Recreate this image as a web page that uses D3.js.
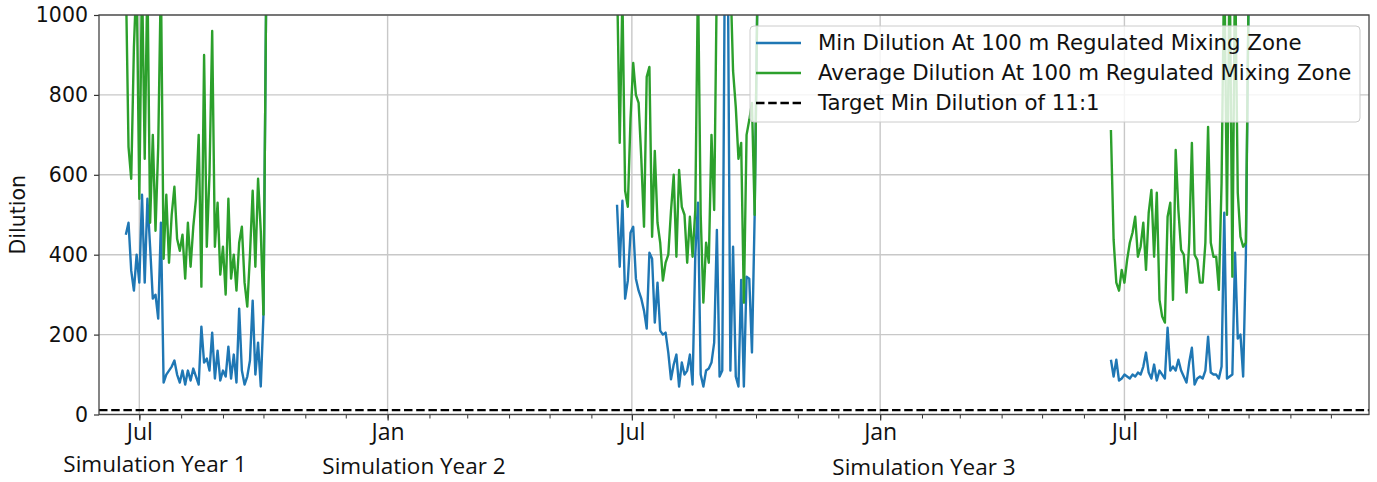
<!DOCTYPE html>
<html><head><meta charset="utf-8">
<script src="https://cdn.jsdelivr.net/npm/d3@7"></script>
<style>body{margin:0;background:#fff;} svg{display:block;}</style>
</head><body><svg id="chart" width="1377" height="482"></svg>
<script>
// ---------- data ----------
const seasonStarts = ["2017-06-21", "2018-06-20", "2019-06-21"];
const stepDays = 2;

const minYear1 = [450,480,360,310,400,330,550,330,540,420,290,300,240,480,80,100,110,120,135,100,80,110,75,110,85,115,95,75,220,130,140,110,205,90,160,85,110,95,170,90,150,80,265,110,75,95,135,285,100,180,70,250,1050];
const avgYear1 = [1100,670,590,920,1100,540,1100,640,1100,480,700,460,670,1100,390,550,380,500,570,440,410,450,340,480,370,470,540,700,320,900,420,600,960,420,530,350,420,300,540,340,400,310,430,470,330,270,400,560,370,590,460,250,1050];

const minYear2 = [525,370,535,290,335,455,470,340,310,290,260,215,405,390,230,330,210,200,205,155,88,125,150,70,130,100,110,150,75,400,530,100,70,110,115,130,180,462,95,110,1200,1200,110,420,95,70,337,70,345,340,155,500,1050];
const avgYear2 = [1100,680,1050,560,520,740,880,800,780,640,470,845,870,445,660,480,430,335,380,400,510,600,395,612,520,500,380,495,395,512,1100,500,280,430,380,700,512,1100,1100,1100,1200,1200,1100,860,770,640,680,280,700,737,780,500,1050];

const minYear3 = [137,95,137,85,90,100,95,90,100,95,105,100,120,155,105,90,125,85,110,100,90,217,110,120,110,137,110,95,80,130,167,75,90,95,90,110,195,105,100,100,90,120,505,90,95,100,405,190,200,95,395,1050];
const avgYear3 = [712,437,330,310,362,330,387,430,455,495,395,420,480,362,505,562,395,555,287,245,230,495,530,287,662,512,412,400,305,430,680,400,387,330,330,430,720,430,395,395,312,580,1150,500,1150,345,1150,555,445,420,430,1050];

const targetDilution = 11;
const yTicks = [0, 200, 400, 600, 800, 1000];
const xDomain = ["2017-06-01T03:00:00Z", "2019-12-29T06:00:00Z"];
const legendLabels = [
  "Min Dilution At 100 m Regulated Mixing Zone",
  "Average Dilution At 100 m Regulated Mixing Zone",
  "Target Min Dilution of 11:1"
];
const yearLabels = ["Simulation Year 1", "Simulation Year 2", "Simulation Year 3"];
const yAxisLabel = "Dilution";

// ---------- layout ----------
const colors = { min: "#1f77b4", avg: "#2ca02c", target: "#000" };
const M = { left: 99, right: 1369, top: 15, bottom: 414.5 };
const LW = 2.4;
const svg = d3.select("#chart");

const x = d3.scaleUtc().domain(xDomain.map(d => new Date(d))).range([M.left, M.right]);
const y = d3.scaleLinear().domain([0, 1000]).range([M.bottom, M.top]);

function series(startStr, values) {
  const s = new Date(startStr + "T00:00:00Z");
  return values.map((v, i) => ({ date: d3.utcDay.offset(s, i * stepDays), value: v }));
}
const minSeries = [series(seasonStarts[0], minYear1), series(seasonStarts[1], minYear2), series(seasonStarts[2], minYear3)];
const avgSeries = [series(seasonStarts[0], avgYear1), series(seasonStarts[1], avgYear2), series(seasonStarts[2], avgYear3)];

svg.append("defs").append("clipPath").attr("id", "clip")
  .append("rect").attr("x", M.left).attr("y", M.top).attr("width", M.right - M.left).attr("height", M.bottom - M.top);

// grid
const majorTicks = x.ticks(d3.utcMonth.every(6));
const grid = svg.append("g");
grid.selectAll("line.h").data(yTicks).join("line")
  .attr("x1", M.left).attr("x2", M.right).attr("y1", d => y(d)).attr("y2", d => y(d))
  .attr("stroke", "#c8c8c8").attr("stroke-width", 1.4);
grid.selectAll("line.v").data(majorTicks).join("line")
  .attr("x1", d => x(d)).attr("x2", d => x(d)).attr("y1", M.top).attr("y2", M.bottom)
  .attr("stroke", "#c8c8c8").attr("stroke-width", 1.4);

// lines
const line = d3.line().x(d => x(d.date)).y(d => y(d.value));
const plot = svg.append("g").attr("clip-path", "url(#clip)");
minSeries.forEach(s => plot.append("path").datum(s).attr("d", line)
  .attr("fill", "none").attr("stroke", colors.min).attr("stroke-width", LW).attr("stroke-linejoin", "round"));
avgSeries.forEach(s => plot.append("path").datum(s).attr("d", line)
  .attr("fill", "none").attr("stroke", colors.avg).attr("stroke-width", LW).attr("stroke-linejoin", "round"));
plot.append("line").attr("x1", M.left).attr("x2", M.right)
  .attr("y1", y(targetDilution)).attr("y2", y(targetDilution))
  .attr("stroke", colors.target).attr("stroke-width", 2.3).attr("stroke-dasharray", "8.5,3.7");

// axes
const yAxis = svg.append("g").attr("transform", `translate(${M.left},0)`)
  .call(d3.axisLeft(y).tickValues(yTicks).tickSize(5).tickPadding(6).tickFormat(d3.format("d")));
yAxis.selectAll("text").attr("font-family", "DejaVu Sans").attr("font-size", 20.5).attr("fill", "#111");
yAxis.select(".domain").remove();
yAxis.selectAll(".tick line").attr("stroke", "#333").attr("stroke-width", 1.2);

const xMinor = svg.append("g").attr("transform", `translate(0,${M.bottom})`)
  .call(d3.axisBottom(x).ticks(d3.utcMonth.every(1)).tickSize(4).tickFormat(""));
xMinor.select(".domain").remove();
xMinor.selectAll(".tick line").attr("stroke", "#333").attr("stroke-width", 1);

const xMajor = svg.append("g").attr("transform", `translate(0,${M.bottom})`)
  .call(d3.axisBottom(x).ticks(d3.utcMonth.every(6)).tickSize(6).tickPadding(3).tickFormat(d3.utcFormat("%b")));
xMajor.select(".domain").remove();
xMajor.selectAll(".tick line").attr("stroke", "#333").attr("stroke-width", 1.2);
xMajor.selectAll("text").attr("font-family", "Open Sans").attr("font-size", 23).attr("fill", "#111");

// spines
svg.append("rect").attr("x", M.left).attr("y", M.top).attr("width", M.right - M.left).attr("height", M.bottom - M.top)
  .attr("fill", "none").attr("stroke", "#444").attr("stroke-width", 1.3);

// y label
svg.append("text").attr("transform", `translate(25,${(M.top + M.bottom) / 2}) rotate(-90)`)
  .attr("text-anchor", "middle").attr("font-family", "DejaVu Sans").attr("font-size", 20.5).attr("fill", "#111")
  .text(yAxisLabel);

// year labels
const yearPos = [[155, 472], [414, 474], [924, 475]];
svg.selectAll("text.year").data(yearLabels).join("text").attr("class", "year")
  .attr("x", (d, i) => yearPos[i][0]).attr("y", (d, i) => yearPos[i][1])
  .attr("text-anchor", "middle").attr("font-family", "Open Sans").attr("font-size", 22.5).attr("fill", "#111")
  .text(d => d);

// legend
const lg = svg.append("g");
lg.append("rect").attr("x", 750).attr("y", 26).attr("width", 610).attr("height", 96).attr("rx", 4)
  .attr("fill", "#fff").attr("fill-opacity", 0.8).attr("stroke", "#ccc").attr("stroke-width", 1);
const lgItems = [
  { label: legendLabels[0], color: colors.min, dash: null },
  { label: legendLabels[1], color: colors.avg, dash: null },
  { label: legendLabels[2], color: colors.target, dash: "8.5,3.7" }
];
lgItems.forEach((it, i) => {
  const cy = 43 + i * 30;
  lg.append("line").attr("x1", 756).attr("x2", 801).attr("y1", cy).attr("y2", cy)
    .attr("stroke", it.color).attr("stroke-width", LW).attr("stroke-dasharray", it.dash);
  lg.append("text").attr("x", 818).attr("y", cy).attr("dy", "0.35em")
    .attr("font-family", "DejaVu Sans").attr("font-size", 21.3).attr("fill", "#111").text(it.label);
});
</script></body></html>
